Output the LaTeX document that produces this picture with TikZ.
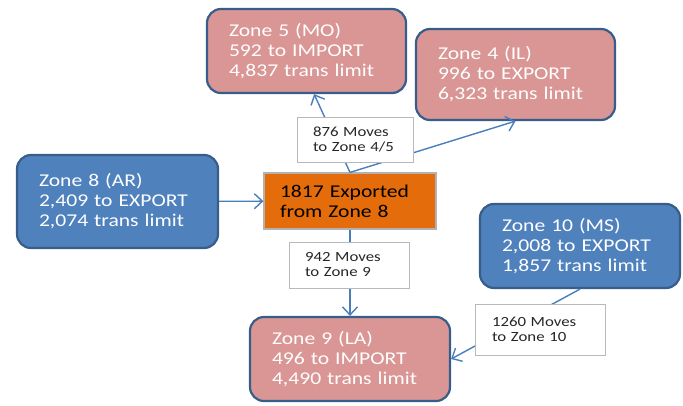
\documentclass[tikz,border=0pt]{standalone}
\usepackage{fontspec}
\setmainfont{Carlito}[FakeStretch=1.2]
\usetikzlibrary{arrows.meta}
\definecolor{importfill}{HTML}{D99694}
\definecolor{exportfill}{HTML}{4F81BD}
\definecolor{zoneborder}{HTML}{385D8A}
\definecolor{exportedfill}{HTML}{E46C0A}
\definecolor{flowblue}{HTML}{4A7EBB}
\tikzset{
	zone/.style={rounded corners=14pt, draw=zoneborder, line width=2.2pt, text=white, align=left, inner xsep=0pt, font=\fontsize{18}{20}\selectfont},
	importzone/.style={zone, fill=importfill},
	exportzone/.style={zone, fill=exportfill},
	exported/.style={draw=gray!60, fill=exportedfill, line width=1.2pt, align=left, inner xsep=0pt, font=\fontsize{18}{20}\selectfont},
	movebox/.style={draw=gray!55, fill=white, line width=1pt, align=left, inner xsep=0pt, text=black!85, font=\fontsize{14}{15}\selectfont},
	flow/.style={draw=flowblue, line width=1.4pt, -{Straight Barb[length=8pt,width=15pt]}}
}
\begin{document}
\begin{tikzpicture}[x=1pt,y=-1pt]
	\useasboundingbox (0,0) rectangle (683,405);
	%zonak
	\node (z5) [importzone, minimum width=199, minimum height=84, text width=155] at (306.5,51) {Zone 5 (MO)\\592 to IMPORT\\4,837 trans limit};
	\node (z4) [importzone, minimum width=199, minimum height=91, text width=155] at (515.5,74.5) {Zone 4 (IL)\\996 to EXPORT\\6,323 trans limit};
	\node (z8) [exportzone, minimum width=201, minimum height=93, text width=157] at (117.5,201.5) {Zone 8 (AR)\\2,409 to EXPORT\\2,074 trans limit};
	\node (z10) [exportzone, minimum width=200, minimum height=84, text width=156] at (580,246) {Zone 10 (MS)\\2,008 to EXPORT\\1,857 trans limit};
	\node (z9) [importzone, minimum width=200, minimum height=84, text width=156] at (350,359) {Zone 9 (LA)\\496 to IMPORT\\4,490 trans limit};
	\node (ex) [exported, minimum width=172, minimum height=56, text width=140] at (350,201) {1817 Exported\\from Zone 8};
	%nyilak
	\draw [flow] (z8) -- (ex);
	\draw [flow] (ex.north) -- (z5.280);
	\draw [flow] (ex.north) -- (z4.south);
	\draw [flow] (ex.south) -- (z9.north);
	\draw [flow] (z10.south) -- (z9.east);
	%feliratok
	\node (m45) [movebox, minimum width=116, minimum height=45, text width=84] at (355,139.5) {876 Moves\\to Zone 4/5};
	\node (m9) [movebox, minimum width=120, minimum height=46, text width=88] at (349,265) {942 Moves\\to Zone 9};
	\node (m10) [movebox, minimum width=130, minimum height=51, text width=96] at (540,329.5) {1260 Moves\\to Zone 10};
\end{tikzpicture}
\end{document}
